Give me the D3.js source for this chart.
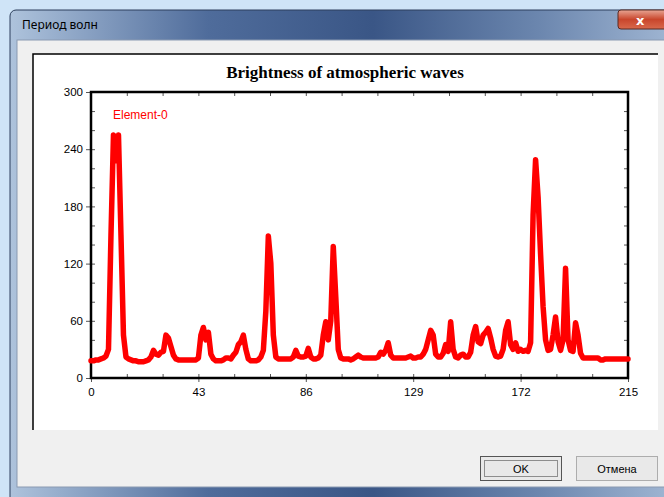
<!DOCTYPE html>
<html>
<head>
<meta charset="utf-8">
<script src="https://cdn.jsdelivr.net/npm/d3@7"></script>
<style>
  body { margin: 0; background: #cfe4f7; }
  svg { display: block; }
</style>
</head>
<body>
<script>
var width = 664,
    height = 497;

// chart data
var chartTitle = "Brightness of atmospheric waves";
var seriesName = "Element-0";
var xTicks = [0, 43, 86, 129, 172, 215];
var yTicks = [0, 60, 120, 180, 240, 300];
var brightness = [
  18, 18, 19, 19, 20, 21, 23, 30, 150, 255,
  228, 255, 150, 45, 22, 20, 19, 18, 18, 17,
  17, 17, 18, 19, 22, 29, 25, 24, 27, 28,
  45, 42, 33, 24, 20, 19, 19, 19, 19, 19,
  19, 19, 19, 21, 45, 53, 40, 48, 25, 20,
  18, 18, 18, 19, 21, 21, 20, 24, 27, 35,
  38, 45, 30, 20, 18, 18, 18, 19, 22, 29,
  70, 149, 120, 45, 22, 20, 20, 20, 20, 20,
  20, 22, 29, 23, 22, 22, 23, 31, 22, 20,
  20, 21, 24, 45, 59, 40, 60, 138, 85, 30,
  21, 20, 20, 20, 19, 20, 22, 24, 22, 21,
  21, 21, 21, 21, 21, 22, 27, 25, 29, 37,
  24, 21, 21, 21, 21, 21, 21, 22, 23, 21,
  21, 22, 22, 25, 30, 40, 50, 45, 25, 22,
  22, 26, 35, 28, 59, 30, 22, 21, 24, 25,
  22, 22, 27, 45, 54, 38, 36, 45, 48, 52,
  42, 30, 23, 22, 23, 30, 50, 59, 35, 30,
  37, 28, 30, 28, 29, 28, 37, 171, 229, 190,
  130, 75, 40, 29, 30, 45, 64, 38, 29, 40,
  115, 40, 29, 28, 58, 45, 26, 21, 21, 21,
  21, 21, 21, 21, 19, 19, 20, 20, 20, 20,
  20, 20, 20, 20, 20, 20
];

var svg = d3.select("body").append("svg")
    .attr("width", width)
    .attr("height", height);

var defs = svg.append("defs");
var tg = defs.append("linearGradient").attr("id", "titlebar");
tg.append("stop").attr("offset", "0%").attr("stop-color", "#aec3dc");
tg.append("stop").attr("offset", "30%").attr("stop-color", "#4f6c9b");
tg.append("stop").attr("offset", "55%").attr("stop-color", "#3a5686");
tg.append("stop").attr("offset", "80%").attr("stop-color", "#6b86ae");
tg.append("stop").attr("offset", "100%").attr("stop-color", "#9fb5d2");

var cg = defs.append("linearGradient").attr("id", "closebtn")
    .attr("x1", 0).attr("y1", 0).attr("x2", 0).attr("y2", 1);
cg.append("stop").attr("offset", "0%").attr("stop-color", "#e8a593");
cg.append("stop").attr("offset", "50%").attr("stop-color", "#c9462c");
cg.append("stop").attr("offset", "100%").attr("stop-color", "#d9694c");

// window frame
svg.append("rect").attr("x", 10).attr("y", 10).attr("width", 660).attr("height", 495)
    .attr("rx", 6).attr("fill", "url(#titlebar)").attr("stroke", "#2c3f5c");
svg.append("rect").attr("x", 17).attr("y", 40).attr("width", 660).attr("height", 447)
    .attr("fill", "#f0f0f0").attr("stroke", "#8a9ab2");
svg.append("text").attr("x", 22).attr("y", 29)
    .attr("font-family", "Noto Sans, sans-serif").attr("font-size", 12)
    .attr("fill", "#000").text("Период волн");

// close button
svg.append("rect").attr("x", 618).attr("y", 10).attr("width", 60).attr("height", 19)
    .attr("rx", 3).attr("fill", "url(#closebtn)").attr("stroke", "#5a2a22");
svg.append("text").attr("x", 636).attr("y", 25)
    .attr("font-family", "DejaVu Sans, sans-serif").attr("font-size", 13).attr("font-weight", "bold")
    .attr("fill", "#fff").text("x");

// chart panel
svg.append("rect").attr("x", 33).attr("y", 54).attr("width", 625).attr("height", 376)
    .attr("fill", "#fff");
svg.append("path").attr("d", "M33,430 V54 H658")
    .attr("fill", "none").attr("stroke", "#000").attr("stroke-width", 1.5);

// buttons
function button(x, label, focus) {
  svg.append("rect").attr("x", x + 0.5).attr("y", 456.5).attr("width", 81).attr("height", 24)
      .attr("fill", "#e9e9e9").attr("stroke", focus ? "#555" : "#adadad");
  if (focus) {
    svg.append("rect").attr("x", x + 4.5).attr("y", 460.5).attr("width", 73).attr("height", 16)
        .attr("fill", "none").attr("stroke", "#333").attr("stroke-dasharray", "1,1");
  }
  svg.append("text").attr("x", x + 41).attr("y", 472.5).attr("text-anchor", "middle")
      .attr("font-family", "Liberation Sans, Arial, sans-serif").attr("font-size", 11)
      .text(label);
}
button(480, "OK", true);
button(576, "Отмена", false);

// plot
var x = d3.scaleLinear().domain([0, 215]).range([91, 628]);
var y = d3.scaleLinear().domain([0, 300]).range([378, 92]);

var minorX = d3.range(0, 216, 43 / 3);
var minorY = d3.range(0, 301, 20);

svg.append("text").attr("x", 345).attr("y", 78).attr("text-anchor", "middle")
    .attr("font-family", "Liberation Serif, Times New Roman, serif")
    .attr("font-size", 17).attr("font-weight", "bold")
    .text(chartTitle);

var g = svg.append("g")
    .attr("font-family", "Liberation Sans, Arial, sans-serif");

// inner minor ticks
g.append("g").attr("transform", "translate(0,378)")
    .call(d3.axisBottom(x).tickValues(minorX).tickSize(-4).tickFormat(""));
g.append("g").attr("transform", "translate(0,92)")
    .call(d3.axisTop(x).tickValues(minorX).tickSize(-4).tickFormat(""));
g.append("g").attr("transform", "translate(91,0)")
    .call(d3.axisLeft(y).tickValues(minorY).tickSize(-4).tickFormat(""));
g.append("g").attr("transform", "translate(628,0)")
    .call(d3.axisRight(y).tickValues(minorY).tickSize(-4).tickFormat(""));

// labelled axes
var xAxis = g.append("g").attr("transform", "translate(0,378)")
    .call(d3.axisBottom(x).tickValues(xTicks).tickSize(4).tickPadding(6));
var yAxis = g.append("g").attr("transform", "translate(91,0)")
    .call(d3.axisLeft(y).tickValues(yTicks).tickSize(5).tickPadding(3));

g.selectAll(".domain").remove();
g.selectAll(".tick line").attr("stroke", "#555");
xAxis.selectAll("text").attr("font-size", 11.5).attr("fill", "#000");
yAxis.selectAll("text").attr("font-size", 11.5).attr("fill", "#000");

// frame
svg.append("rect").attr("x", 91).attr("y", 92).attr("width", 537).attr("height", 286)
    .attr("fill", "none").attr("stroke", "#000").attr("stroke-width", 2.5);

var line = d3.line()
    .x(function(d, i) { return x(i); })
    .y(function(d) { return y(d); });

svg.append("path")
    .datum(brightness)
    .attr("d", line)
    .attr("fill", "none")
    .attr("stroke", "#ff0000")
    .attr("stroke-width", 5.5)
    .attr("stroke-linejoin", "round")
    .attr("stroke-linecap", "round");

svg.append("text").attr("x", 113).attr("y", 119)
    .attr("font-family", "Liberation Sans, Arial, sans-serif").attr("font-size", 12)
    .attr("fill", "#ff0000").text(seriesName);
</script>
</body>
</html>
